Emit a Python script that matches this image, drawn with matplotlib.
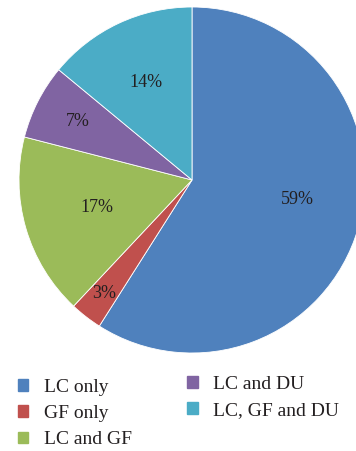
import matplotlib.pyplot as plt
import numpy as np
from matplotlib.patches import Patch

# data
categories = ['LC only', 'GF only', 'LC and GF', 'LC and DU', 'LC, GF and DU']
shares = [59, 3, 17, 7, 14]
colors = ['#4F81BD', '#C0504D', '#9BBB59', '#8064A2', '#4BACC6']
# label placement (fraction of radius, angle shift in degrees), like Excel best fit
label_r = [0.62, 0.83, 0.57, 0.74, 0.62]
label_shift = [5.5, 0, 0, 0, 0]

plt.rcParams['font.family'] = ['Liberation Serif', 'DejaVu Serif']

fig = plt.figure(figsize=(3.56, 4.51), dpi=100)
W, H = 356, 451
cx, cy, r = 192, 180, 173
ax = fig.add_axes([(cx - r) / W, 1 - (cy + r) / H, 2 * r / W, 2 * r / H])

wedges, _ = ax.pie(shares, colors=colors, startangle=90, counterclock=False,
                   radius=1, wedgeprops=dict(linewidth=0.6, edgecolor='white'))
ax.set_xlim(-1, 1)
ax.set_ylim(-1, 1)
ax.axis('off')
for w in wedges:
    w.set_clip_on(False)

for w, v, d, s in zip(wedges, shares, label_r, label_shift):
    ang = np.deg2rad((w.theta1 + w.theta2) / 2 + s)
    ax.text(d * np.cos(ang), d * np.sin(ang), f'{v}%', ha='center', va='center',
            fontsize=13, color='#231F20')

# legend in two staggered columns
left = [Patch(color=c) for c in colors[:3]]
right = [Patch(color=c) for c in colors[3:]]
leg_kw = dict(frameon=False, fontsize=14, handlelength=0.55, handleheight=0.55,
              handletextpad=0.8, labelspacing=0.48, borderaxespad=0, labelcolor='#231F20')
fig.legend(left, categories[:3], loc='upper left', bbox_to_anchor=(0.028, 1 - 371 / H), **leg_kw)
fig.legend(right, categories[3:], loc='upper left', bbox_to_anchor=(0.503, 1 - 368 / H), **leg_kw)

fig.savefig('out.png', dpi=100)
